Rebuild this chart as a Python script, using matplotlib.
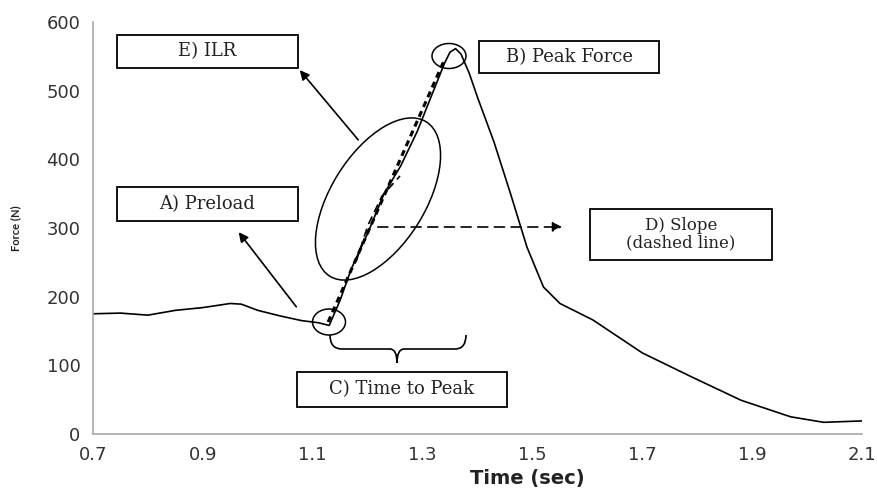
import matplotlib.pyplot as plt
from matplotlib.patches import Rectangle, Ellipse, FancyArrowPatch
from matplotlib.path import Path
from matplotlib.patches import PathPatch

# force trace
time = [0.70, 0.75, 0.80, 0.85, 0.90, 0.95, 0.97, 1.00, 1.04, 1.08, 1.11, 1.13,
        1.15, 1.17, 1.20, 1.23, 1.26, 1.29, 1.32, 1.34, 1.35, 1.36, 1.37, 1.385,
        1.40, 1.43, 1.46, 1.49, 1.52, 1.55, 1.61, 1.70, 1.79, 1.88, 1.97, 2.03, 2.10]
force = [175, 176, 173, 180, 184, 190, 189, 180, 172, 165, 162, 158,
         195, 240, 292, 350, 390, 440, 500, 540, 556, 561, 553, 525,
         490, 425, 350, 272, 214, 190, 166, 118, 83, 49, 25, 17, 19]

# straight line used for the slope
slope_t = [1.128, 1.341]
slope_f = [163, 547]

xticks = [0.7, 0.9, 1.1, 1.3, 1.5, 1.7, 1.9, 2.1]
yticks = [0, 100, 200, 300, 400, 500, 600]

fig = plt.figure(figsize=(8.77, 4.93), dpi=100)
ax = fig.add_axes([0.106, 0.1197, 0.877, 0.836])

ax.plot(time, force, color='black', lw=1.2)
ax.plot(slope_t, slope_f, color='black', lw=2.2, ls=(0, (2, 1.5)))

ax.set_xlim(0.7, 2.1)
ax.set_ylim(0, 600)
ax.set_xticks(xticks)
ax.set_xticklabels([f"{t:.1f}" for t in xticks], fontsize=13)
ax.set_yticks(yticks)
ax.set_yticklabels([str(v) for v in yticks], fontsize=13)
ax.tick_params(length=0, pad=9, labelcolor='#333333')
for s in ['top', 'right']:
    ax.spines[s].set_visible(False)
for s in ['left', 'bottom']:
    ax.spines[s].set_color('#a8a8a8')
    ax.spines[s].set_linewidth(1.2)
ax.set_xlabel('Time (sec)', fontweight='bold', fontsize=14, labelpad=4,
              color='#222222')
ax.xaxis.set_label_coords(0.565, -0.085)
ax.set_ylabel('Force (N)', fontname='Lato', fontweight='bold', fontsize=8,
              labelpad=18, color='#222222')

# overlay in image pixels for the hand-drawn notes
ov = fig.add_axes([0, 0, 1, 1])
ov.set_xlim(0, 877)
ov.set_ylim(493, 0)
ov.axis('off')
ov.patch.set_alpha(0)

serif = 'DejaVu Serif'


def box(x0, y0, x1, y1, label, fs=13):
    ov.add_patch(Rectangle((x0, y0), x1 - x0, y1 - y0, fill=False, ec='black', lw=1.3))
    ov.text((x0 + x1) / 2, (y0 + y1) / 2, label, ha='center', va='center',
            fontname=serif, fontsize=fs, color='#222222', linespacing=1.0)


box(117, 35, 298, 68, 'E) ILR')
box(117, 187, 298, 221, 'A) Preload')
box(479, 41, 659, 73, 'B) Peak Force')
box(297, 372, 507, 407, 'C) Time to Peak')
box(590, 209, 772, 260, 'D) Slope\n(dashed line)', fs=12)


def arrow(p0, p1, ls='-'):
    ov.add_patch(FancyArrowPatch(p0, p1, arrowstyle='-|>', mutation_scale=14,
                                 color='black', lw=1.2, ls=ls))


arrow((360, 142), (298, 68))
arrow((298, 309), (237, 230))
arrow((375, 227), (565, 227), ls=(0, (6, 4)))

# circles and the ILR ellipse
ov.add_patch(Ellipse((329, 322), 33, 26, fill=False, ec='black', lw=1.1))
ov.add_patch(Ellipse((449, 56), 34, 25, fill=False, ec='black', lw=1.1))
ov.add_patch(Ellipse((378, 199), 182, 94, angle=-58, fill=False, ec='black', lw=1.1))

# short dashed trace inside the ellipse
ov.plot([356, 368, 382, 400], [262, 225, 196, 176], color='black', lw=1.2,
        ls=(0, (5, 3)))

# curly brace under the rise
verts = [(330, 335), (330, 349), (342, 349),
         (390, 349), (397, 349), (397, 363),
         (397, 349), (404, 349),
         (455, 349), (466, 349), (466, 335)]
codes = [Path.MOVETO, Path.CURVE3, Path.CURVE3,
         Path.LINETO, Path.CURVE3, Path.CURVE3,
         Path.CURVE3, Path.CURVE3,
         Path.LINETO, Path.CURVE3, Path.CURVE3]
ov.add_patch(PathPatch(Path(verts, codes), fill=False, ec='black', lw=1.2))

fig.savefig('out.png', dpi=100)
